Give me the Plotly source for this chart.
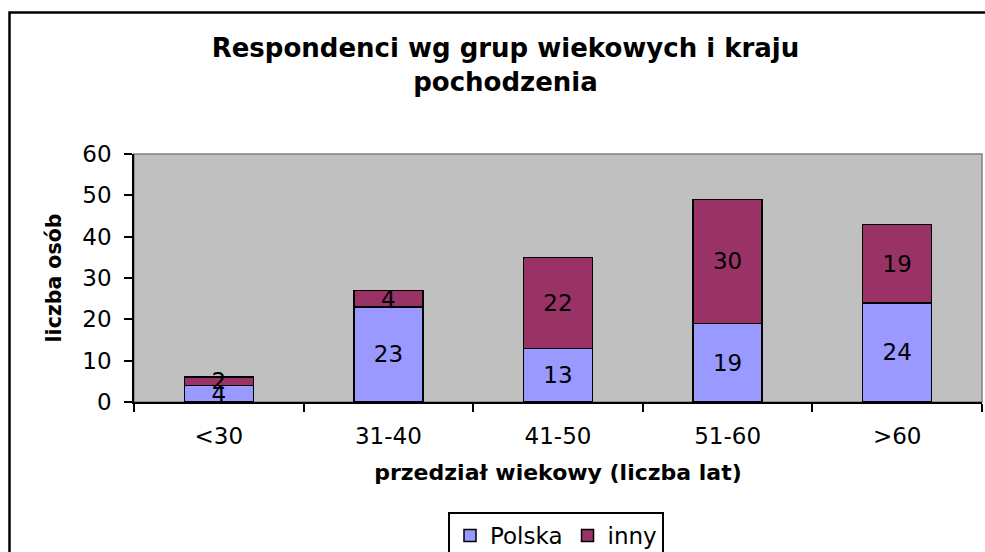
import plotly.graph_objects as go

categories = ["<30", "31-40", "41-50", "51-60", ">60"]
polska = [4, 23, 13, 19, 24]
inny = [2, 4, 22, 30, 19]
y_ticks = [0, 10, 20, 30, 40, 50, 60]

FONT = "DejaVu Sans"
W, H = 985, 552
L, R, T, B = 134, W - 982, 154, H - 402
pw = W - L - R
ph = H - T - B

def px(x):
    return (x - L) / pw

def py(y):
    return (H - B - y) / ph

fig = go.Figure()
fig.add_trace(go.Bar(
    name="Polska", x=categories, y=polska,
    marker=dict(color="#9999FF", line=dict(color="black", width=1.5)),
    texttemplate="%{y}", textposition="inside",
    insidetextanchor="middle", textangle=0,
    textfont=dict(family=FONT, size=23, color="black"),
))
fig.add_trace(go.Bar(
    name="inny", x=categories, y=inny,
    marker=dict(color="#993366", line=dict(color="black", width=1.5)),
    texttemplate="%{y}", textposition="inside",
    insidetextanchor="middle", textangle=0,
    textfont=dict(family=FONT, size=23, color="black"),
))

fig.update_layout(
    width=W, height=H,
    margin=dict(l=L, r=R, t=T, b=B, autoexpand=False),
    barmode="stack", bargap=0.593,
    paper_bgcolor="white", plot_bgcolor="#C0C0C0",
    font=dict(family=FONT, size=23, color="black"),
    uniformtext=dict(minsize=23, mode="show"),
    title=dict(
        text="<b>Respondenci wg grup wiekowych i kraju<br>pochodzenia</b>",
        x=505.5 / W, xanchor="center", xref="container",
        y=1 - 57 / H, yanchor="middle", yref="container",
        font=dict(family=FONT, size=26, color="black"),
    ),
    showlegend=True,
    legend=dict(
        orientation="h", x=px(448), xanchor="left", y=py(512), yanchor="top",
        bordercolor="black", borderwidth=2, bgcolor="white",
        font=dict(family=FONT, size=23, color="black"),
        itemwidth=30, traceorder="normal",
    ),
    xaxis=dict(
        type="category", tickson="boundaries", ticks="outside", ticklen=8,
        tickcolor="black", tickwidth=1.5, showline=True, linecolor="black",
        linewidth=1.5, showgrid=False, ticklabelstandoff=13,
        tickfont=dict(family=FONT, size=23, color="black"),
        title=dict(text="<b>przedział wiekowy (liczba lat)</b>",
                   font=dict(family=FONT, size=22, color="black"), standoff=16),
    ),
    yaxis=dict(
        range=[0, 60], tickvals=y_ticks, ticks="outside", ticklen=8,
        tickcolor="black", tickwidth=1.5, showline=True, linecolor="black",
        linewidth=1.5, showgrid=False, zeroline=False, ticklabelstandoff=8,
        tickfont=dict(family=FONT, size=23, color="black"),
        title=dict(text="<b>liczba osób</b>",
                   font=dict(family=FONT, size=20.5, color="black"), standoff=15),
    ),
    shapes=[
        dict(type="rect", xref="paper", yref="paper", x0=0, x1=1, y0=0, y1=1,
             line=dict(color="#808080", width=1.5), layer="below"),
        dict(type="rect", xref="paper", yref="paper",
             x0=px(9.5), x1=px(1000), y0=py(12.5), y1=py(580),
             line=dict(color="black", width=2.5), fillcolor="rgba(0,0,0,0)",
             layer="above"),
    ],
)

fig.write_html(
    "out.html",
    config={"displayModeBar": False},
    post_script="document.body.style.margin='0';document.body.style.overflow='hidden';",
)
